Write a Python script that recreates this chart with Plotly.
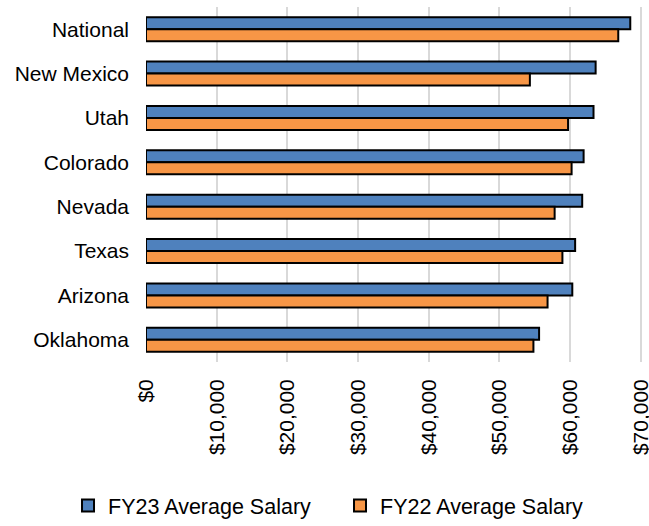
import plotly.graph_objects as go

states = ["National", "New Mexico", "Utah", "Colorado", "Nevada", "Texas", "Arizona", "Oklahoma"]
fy23 = [68500, 63600, 63300, 61900, 61700, 60700, 60300, 55600]
fy22 = [66800, 54300, 59700, 60200, 57800, 58900, 56800, 54800]
tick_vals = [0, 10000, 20000, 30000, 40000, 50000, 60000, 70000]
tick_text = ["$0", "$10,000", "$20,000", "$30,000", "$40,000", "$50,000", "$60,000", "$70,000"]

font = dict(family="Liberation Sans, Arial, sans-serif", size=21, color="#000000")
legend_font = dict(family="Liberation Sans, Arial, sans-serif", size=21.5, color="#000000")

fig = go.Figure()
fig.add_trace(go.Bar(
    y=states, x=fy23, orientation="h", name="FY23 Average Salary",
    marker=dict(color="#4f81bd", line=dict(color="#000000", width=2)),
    legend="legend",
))
fig.add_trace(go.Bar(
    y=states, x=fy22, orientation="h", name="FY22 Average Salary",
    marker=dict(color="#f79646", line=dict(color="#000000", width=2)),
    legend="legend2",
))

legend_common = dict(orientation="h", xanchor="left", xref="container",
                     y=-0.022, yanchor="bottom", yref="container",
                     font=legend_font, bgcolor="rgba(0,0,0,0)")

fig.update_layout(
    width=649, height=526,
    margin=dict(l=146, r=6, t=7, b=164),
    paper_bgcolor="white", plot_bgcolor="white",
    font=font,
    barmode="group", bargap=0.46, bargroupgap=0,
    showlegend=True,
    legend=dict(x=0.1048, **legend_common),
    legend2=dict(x=0.5239, **legend_common),
    xaxis=dict(range=[0, 70300], tickvals=tick_vals, ticktext=tick_text,
               tickangle=-90, showgrid=True, gridcolor="#d9d9d9", gridwidth=1.5,
               zeroline=False, showline=False, ticks="", tickfont=font,
               automargin=False, ticklabelstandoff=12, ticklabeloverflow="allow"),
    yaxis=dict(autorange="reversed", showgrid=False, zeroline=False,
               showline=False, ticks="", tickfont=font,
               automargin=False, ticklabelstandoff=16),
)

fig.write_html("out.html", config={"displayModeBar": False},
               post_script="document.body.style.margin='0px';")
